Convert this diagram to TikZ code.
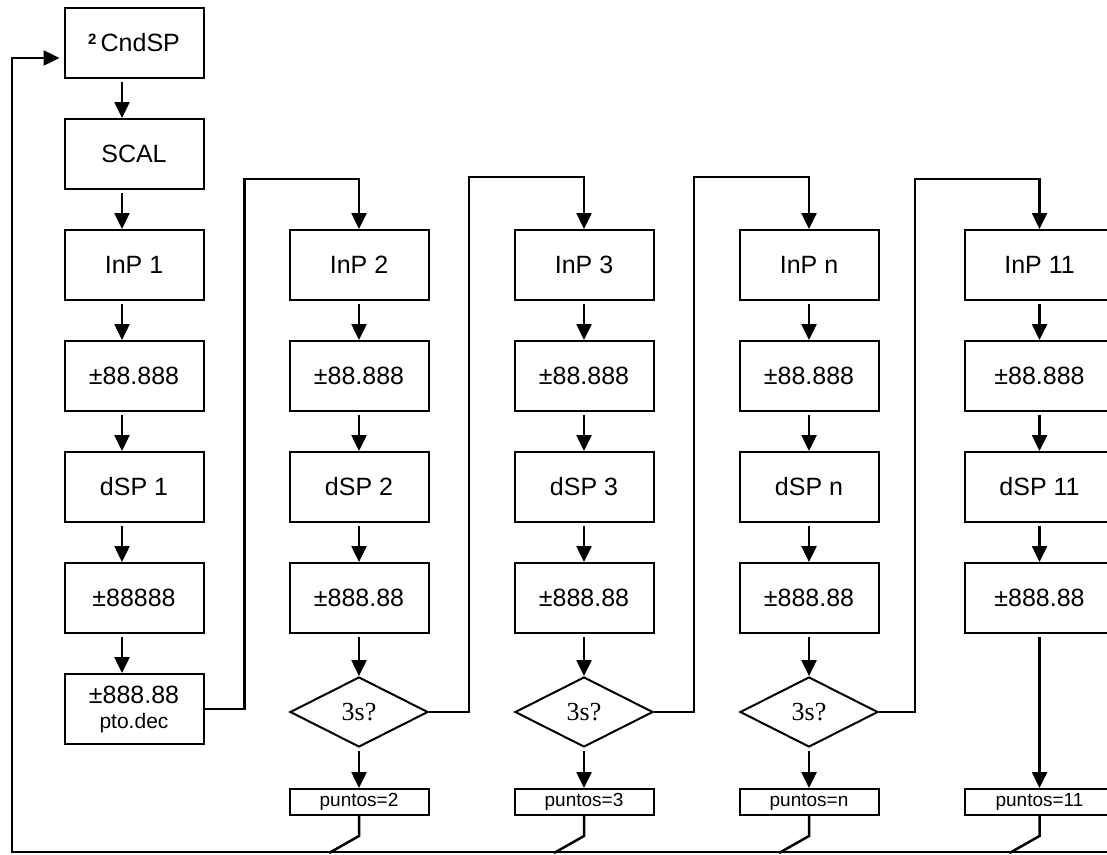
\documentclass[tikz,border=0pt]{standalone}
\usepackage{fontspec}
\setmainfont{Liberation Sans}
\newfontfamily\qfont{Liberation Serif}
\usetikzlibrary{positioning}
\usetikzlibrary{shapes.geometric}
\usetikzlibrary{arrows.meta}

\begin{document}
\begin{tikzpicture}[x=1pt, y=1pt, node distance=39pt and 84pt,
    B/.style={draw, line width=2pt, minimum width=139pt, minimum height=70pt, inner sep=0pt, align=center, font=\fontsize{25}{28}\selectfont},
    BL/.style={B, minimum width=150pt},
    Q/.style={draw, diamond, line width=2pt, minimum width=138pt, minimum height=70pt, inner sep=0pt, font=\qfont\fontsize{26}{28}\selectfont},
    P/.style={draw, line width=2pt, minimum width=139pt, minimum height=26pt, inner sep=0pt, font=\fontsize{19}{20}\selectfont},
    arr/.style={line width=2.5pt, shorten <=3pt, -{Triangle[length=16pt,width=15pt]}},
    ln/.style={line width=2.5pt}]
    \useasboundingbox (0,0) rectangle (1107,-854);
    \clip (0,0) rectangle (1107,-854);

    \node[B] (cnd) at (134,-43) {\raisebox{7pt}{\bfseries\fontsize{15}{15}\selectfont 2}\,CndSP};
    \node[B] (scal) [below=of cnd] {SCAL};
    \node[B] (inp1) [below=of scal] {InP 1};
    \node[B] (v1) [below=of inp1] {±88.888};
    \node[B] (dsp1) [below=of v1] {dSP 1};
    \node[B] (w1) [below=of dsp1] {±88888};
    \node[B] (pto) [below=of w1] {±888.88\\[-3pt]{\fontsize{21}{22}\selectfont pto.dec}};

    \node[B] (inp2) [right=of inp1] {InP 2};
    \node[B] (v2) [below=of inp2] {±88.888};
    \node[B] (dsp2) [below=of v2] {dSP 2};
    \node[B] (r2) [below=of dsp2] {±888.88};
    \node[Q] (q2) [below=42pt of r2] {3s?};
    \node[P] (pts2) [below=40pt of q2] {puntos=2};

    \node[B] (inp3) [right=of inp2] {InP 3};
    \node[B] (v3) [below=of inp3] {±88.888};
    \node[B] (dsp3) [below=of v3] {dSP 3};
    \node[B] (r3) [below=of dsp3] {±888.88};
    \node[Q] (q3) [below=42pt of r3] {3s?};
    \node[P] (pts3) [below=40pt of q3] {puntos=3};

    \node[B] (inp4) [right=of inp3] {InP n};
    \node[B] (v4) [below=of inp4] {±88.888};
    \node[B] (dsp4) [below=of v4] {dSP n};
    \node[B] (r4) [below=of dsp4] {±888.88};
    \node[Q] (q4) [below=42pt of r4] {3s?};
    \node[P] (pts4) [below=40pt of q4] {puntos=n};

    \node[BL] (inp5) [right=of inp4] {InP 11};
    \node[BL] (v5) [below=of inp5] {±88.888};
    \node[BL] (dsp5) [below=of v5] {dSP 11};
    \node[BL] (r5) [below=of dsp5] {±888.88};
    \node[P, minimum width=150pt] (pts5) at (pts4 -| r5) {puntos=11};

    \coordinate (bl) at (12,-852);
    \coordinate (br) at (1107,-852);

    \draw[arr] ([xshift=-12pt]cnd.south) -- ([xshift=-12pt]scal.north);
    \draw[arr] ([xshift=-12pt]scal.south) -- ([xshift=-12pt]inp1.north);
    \draw[arr] ([xshift=-12pt]inp1.south) -- ([xshift=-12pt]v1.north);
    \draw[arr] ([xshift=-12pt]v1.south) -- ([xshift=-12pt]dsp1.north);
    \draw[arr] ([xshift=-12pt]dsp1.south) -- ([xshift=-12pt]w1.north);
    \draw[arr] ([xshift=-12pt]w1.south) -- ([xshift=-12pt]pto.north);

    \draw[arr] (inp2) -- (v2);
    \draw[arr] (v2) -- (dsp2);
    \draw[arr] (dsp2) -- (r2);
    \draw[arr] (r2) -- (q2);
    \draw[arr] (q2) -- (pts2);

    \draw[arr] (inp3) -- (v3);
    \draw[arr] (v3) -- (dsp3);
    \draw[arr] (dsp3) -- (r3);
    \draw[arr] (r3) -- (q3);
    \draw[arr] (q3) -- (pts3);

    \draw[arr] (inp4) -- (v4);
    \draw[arr] (v4) -- (dsp4);
    \draw[arr] (dsp4) -- (r4);
    \draw[arr] (r4) -- (q4);
    \draw[arr] (q4) -- (pts4);

    \draw[arr] (inp5) -- (v5);
    \draw[arr] (v5) -- (dsp5);
    \draw[arr] (dsp5) -- (r5);
    \draw[arr] (r5) -- (pts5);

    \draw[arr, shorten <=0pt] (pto.east) -- ++(40,0) |- ([yshift=50pt]inp2.north) -- (inp2.north);
    \draw[arr, shorten <=0pt] (q2.east) -- ++(40,0) |- ([yshift=52pt]inp3.north) -- (inp3.north);
    \draw[arr, shorten <=0pt] (q3.east) -- ++(40,0) |- ([yshift=52pt]inp4.north) -- (inp4.north);
    \draw[arr, shorten <=0pt] (q4.east) -- ++(36,0) |- ([yshift=50pt]inp5.north) -- (inp5.north);

    \draw[ln] (pts2.south) -- ++(0,-20) -- ++(-30,-17);
    \draw[ln] (pts3.south) -- ++(0,-20) -- ++(-30,-17);
    \draw[ln] (pts4.south) -- ++(0,-20) -- ++(-30,-17);
    \draw[ln] (pts5.south) -- ++(0,-20) -- ++(-30,-17);

    \draw[arr, shorten <=0pt, shorten >=4pt] (br) -- (bl) |- ([yshift=-15pt]cnd.west);
\end{tikzpicture}
\end{document}
